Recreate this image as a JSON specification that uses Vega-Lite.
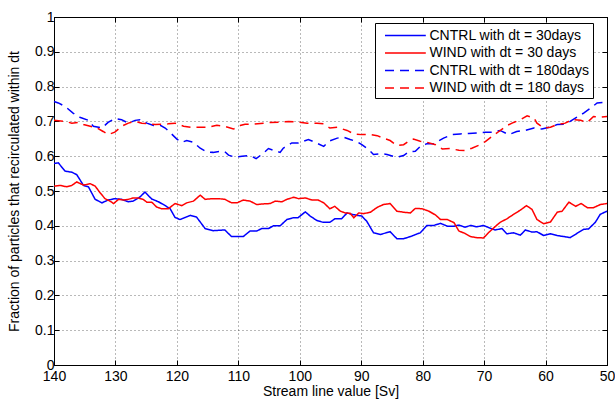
{
"$schema": "https://vega.github.io/schema/vega-lite/v6.json",
"width": 553, "height": 348,
"autosize": {"type": "none"},
"padding": {"left": 54, "top": 17, "right": 8, "bottom": 36},
"background": "white",
"config": {
  "font": "Liberation Sans",
  "view": {"stroke": "black", "strokeWidth": 1},
  "axis": {"domainColor": "black", "tickColor": "black", "tickSize": -5, "labelFont": "Liberation Sans", "labelFontSize": 14, "labelColor": "black", "titleFont": "Liberation Sans", "titleFontSize": 14, "titleFontWeight": "normal", "titleColor": "black", "gridColor": "black", "gridDash": [1, 3], "gridOpacity": 0.55}
},
"datasets": {
"d": [
{"s":"c30","x":140,"y":0.579},{"s":"c30","x":139.3,"y":0.581},{"s":"c30","x":138.2,"y":0.557},{"s":"c30","x":137.1,"y":0.554},{"s":"c30","x":136.3,"y":0.547},{"s":"c30","x":135.2,"y":0.516},{"s":"c30","x":134.4,"y":0.512},{"s":"c30","x":133.3,"y":0.476},{"s":"c30","x":132.2,"y":0.466},{"s":"c30","x":131.2,"y":0.474},{"s":"c30","x":130.1,"y":0.478},{"s":"c30","x":129,"y":0.476},{"s":"c30","x":127.9,"y":0.469},{"s":"c30","x":127.1,"y":0.471},{"s":"c30","x":126,"y":0.483},{"s":"c30","x":125.2,"y":0.497},{"s":"c30","x":124.1,"y":0.477},{"s":"c30","x":123,"y":0.469},{"s":"c30","x":121.9,"y":0.458},{"s":"c30","x":121.1,"y":0.449},{"s":"c30","x":120.3,"y":0.424},{"s":"c30","x":119.5,"y":0.418},{"s":"c30","x":117.8,"y":0.43},{"s":"c30","x":116.8,"y":0.425},{"s":"c30","x":115.4,"y":0.392},{"s":"c30","x":114.1,"y":0.386},{"s":"c30","x":112.2,"y":0.388},{"s":"c30","x":111.1,"y":0.369},{"s":"c30","x":109.2,"y":0.369},{"s":"c30","x":108.1,"y":0.385},{"s":"c30","x":107,"y":0.385},{"s":"c30","x":106.2,"y":0.392},{"s":"c30","x":105.1,"y":0.392},{"s":"c30","x":104.3,"y":0.4},{"s":"c30","x":103.2,"y":0.4},{"s":"c30","x":102.1,"y":0.418},{"s":"c30","x":101.1,"y":0.423},{"s":"c30","x":100.3,"y":0.423},{"s":"c30","x":99.1,"y":0.44},{"s":"c30","x":98.3,"y":0.428},{"s":"c30","x":97.2,"y":0.415},{"s":"c30","x":96.2,"y":0.41},{"s":"c30","x":95.1,"y":0.41},{"s":"c30","x":94.3,"y":0.42},{"s":"c30","x":93.2,"y":0.42},{"s":"c30","x":92.3,"y":0.437},{"s":"c30","x":91.5,"y":0.433},{"s":"c30","x":90.7,"y":0.43},{"s":"c30","x":89.9,"y":0.428},{"s":"c30","x":89.1,"y":0.413},{"s":"c30","x":88,"y":0.38},{"s":"c30","x":86.9,"y":0.375},{"s":"c30","x":85.3,"y":0.383},{"s":"c30","x":84.2,"y":0.363},{"s":"c30","x":83.1,"y":0.363},{"s":"c30","x":82,"y":0.369},{"s":"c30","x":80.4,"y":0.38},{"s":"c30","x":79.3,"y":0.401},{"s":"c30","x":78.2,"y":0.401},{"s":"c30","x":77.1,"y":0.407},{"s":"c30","x":76,"y":0.399},{"s":"c30","x":74.9,"y":0.399},{"s":"c30","x":74.1,"y":0.402},{"s":"c30","x":73.1,"y":0.396},{"s":"c30","x":72.2,"y":0.401},{"s":"c30","x":71.2,"y":0.397},{"s":"c30","x":70.1,"y":0.401},{"s":"c30","x":69,"y":0.393},{"s":"c30","x":68.2,"y":0.388},{"s":"c30","x":67.1,"y":0.392},{"s":"c30","x":66.3,"y":0.377},{"s":"c30","x":65.2,"y":0.38},{"s":"c30","x":64.1,"y":0.373},{"s":"c30","x":63.3,"y":0.388},{"s":"c30","x":62.2,"y":0.382},{"s":"c30","x":61.4,"y":0.383},{"s":"c30","x":60.3,"y":0.372},{"s":"c30","x":59.2,"y":0.377},{"s":"c30","x":58.1,"y":0.372},{"s":"c30","x":57,"y":0.369},{"s":"c30","x":56,"y":0.366},{"s":"c30","x":54.9,"y":0.378},{"s":"c30","x":53.8,"y":0.39},{"s":"c30","x":53,"y":0.391},{"s":"c30","x":51.9,"y":0.41},{"s":"c30","x":51.1,"y":0.433},{"s":"c30","x":50,"y":0.442},
{"s":"w30","x":140,"y":0.514},{"s":"w30","x":139,"y":0.516},{"s":"w30","x":137.9,"y":0.512},{"s":"w30","x":137.1,"y":0.516},{"s":"w30","x":136.3,"y":0.526},{"s":"w30","x":135.2,"y":0.517},{"s":"w30","x":134.1,"y":0.521},{"s":"w30","x":133.3,"y":0.514},{"s":"w30","x":132.5,"y":0.495},{"s":"w30","x":131.7,"y":0.478},{"s":"w30","x":130.9,"y":0.471},{"s":"w30","x":130.3,"y":0.464},{"s":"w30","x":129.5,"y":0.476},{"s":"w30","x":128.7,"y":0.474},{"s":"w30","x":127.9,"y":0.476},{"s":"w30","x":127.1,"y":0.48},{"s":"w30","x":126.3,"y":0.48},{"s":"w30","x":125.5,"y":0.476},{"s":"w30","x":124.9,"y":0.468},{"s":"w30","x":124.1,"y":0.468},{"s":"w30","x":123.3,"y":0.454},{"s":"w30","x":122.5,"y":0.449},{"s":"w30","x":121.4,"y":0.449},{"s":"w30","x":120.3,"y":0.464},{"s":"w30","x":119.2,"y":0.458},{"s":"w30","x":118.4,"y":0.466},{"s":"w30","x":117.3,"y":0.471},{"s":"w30","x":116.2,"y":0.488},{"s":"w30","x":115.4,"y":0.476},{"s":"w30","x":114.3,"y":0.478},{"s":"w30","x":113.2,"y":0.478},{"s":"w30","x":112.2,"y":0.476},{"s":"w30","x":111.1,"y":0.466},{"s":"w30","x":110.2,"y":0.466},{"s":"w30","x":109.2,"y":0.474},{"s":"w30","x":108.1,"y":0.471},{"s":"w30","x":107,"y":0.461},{"s":"w30","x":105.9,"y":0.463},{"s":"w30","x":104.8,"y":0.464},{"s":"w30","x":104,"y":0.471},{"s":"w30","x":102.9,"y":0.469},{"s":"w30","x":102.1,"y":0.476},{"s":"w30","x":101,"y":0.482},{"s":"w30","x":100.2,"y":0.478},{"s":"w30","x":99.1,"y":0.48},{"s":"w30","x":98,"y":0.474},{"s":"w30","x":97,"y":0.474},{"s":"w30","x":96.1,"y":0.466},{"s":"w30","x":95.1,"y":0.449},{"s":"w30","x":94.3,"y":0.456},{"s":"w30","x":93.4,"y":0.442},{"s":"w30","x":92.6,"y":0.437},{"s":"w30","x":91.8,"y":0.436},{"s":"w30","x":91.2,"y":0.423},{"s":"w30","x":90.4,"y":0.437},{"s":"w30","x":89.6,"y":0.435},{"s":"w30","x":88.5,"y":0.439},{"s":"w30","x":87.4,"y":0.453},{"s":"w30","x":86.4,"y":0.461},{"s":"w30","x":85.3,"y":0.464},{"s":"w30","x":84.2,"y":0.442},{"s":"w30","x":83.1,"y":0.439},{"s":"w30","x":82,"y":0.437},{"s":"w30","x":81.2,"y":0.45},{"s":"w30","x":80.1,"y":0.449},{"s":"w30","x":79,"y":0.442},{"s":"w30","x":77.9,"y":0.431},{"s":"w30","x":77.1,"y":0.418},{"s":"w30","x":76,"y":0.418},{"s":"w30","x":74.9,"y":0.409},{"s":"w30","x":74.1,"y":0.385},{"s":"w30","x":73.1,"y":0.378},{"s":"w30","x":72.2,"y":0.369},{"s":"w30","x":71.2,"y":0.366},{"s":"w30","x":70.1,"y":0.365},{"s":"w30","x":69.3,"y":0.38},{"s":"w30","x":68.5,"y":0.393},{"s":"w30","x":67.4,"y":0.41},{"s":"w30","x":66.3,"y":0.42},{"s":"w30","x":65.2,"y":0.433},{"s":"w30","x":64.1,"y":0.445},{"s":"w30","x":63.1,"y":0.458},{"s":"w30","x":62.2,"y":0.447},{"s":"w30","x":61.4,"y":0.418},{"s":"w30","x":60.3,"y":0.406},{"s":"w30","x":59.2,"y":0.411},{"s":"w30","x":58.1,"y":0.439},{"s":"w30","x":57.3,"y":0.442},{"s":"w30","x":56.2,"y":0.468},{"s":"w30","x":55.1,"y":0.456},{"s":"w30","x":54.2,"y":0.464},{"s":"w30","x":53.2,"y":0.452},{"s":"w30","x":52.2,"y":0.452},{"s":"w30","x":51.1,"y":0.461},{"s":"w30","x":50,"y":0.464},
{"s":"c180","x":140,"y":0.757},{"s":"c180","x":139.3,"y":0.753},{"s":"c180","x":138.2,"y":0.743},{"s":"c180","x":136.9,"y":0.724},{"s":"c180","x":135.8,"y":0.712},{"s":"c180","x":134.4,"y":0.703},{"s":"c180","x":133.6,"y":0.686},{"s":"c180","x":132.2,"y":0.681},{"s":"c180","x":131.2,"y":0.697},{"s":"c180","x":130.1,"y":0.708},{"s":"c180","x":129,"y":0.705},{"s":"c180","x":127.9,"y":0.695},{"s":"c180","x":126.8,"y":0.703},{"s":"c180","x":126,"y":0.705},{"s":"c180","x":124.9,"y":0.695},{"s":"c180","x":123.8,"y":0.688},{"s":"c180","x":122.7,"y":0.689},{"s":"c180","x":121.9,"y":0.681},{"s":"c180","x":121.1,"y":0.668},{"s":"c180","x":120,"y":0.649},{"s":"c180","x":119.2,"y":0.64},{"s":"c180","x":118.4,"y":0.645},{"s":"c180","x":117.3,"y":0.64},{"s":"c180","x":116.2,"y":0.623},{"s":"c180","x":115.1,"y":0.612},{"s":"c180","x":114.1,"y":0.611},{"s":"c180","x":113,"y":0.614},{"s":"c180","x":112.2,"y":0.613},{"s":"c180","x":111.6,"y":0.603},{"s":"c180","x":110.5,"y":0.597},{"s":"c180","x":109.4,"y":0.6},{"s":"c180","x":108.1,"y":0.602},{"s":"c180","x":107.1,"y":0.593},{"s":"c180","x":105.9,"y":0.609},{"s":"c180","x":105.1,"y":0.622},{"s":"c180","x":104.3,"y":0.617},{"s":"c180","x":103.2,"y":0.611},{"s":"c180","x":102.7,"y":0.623},{"s":"c180","x":101.3,"y":0.638},{"s":"c180","x":100.2,"y":0.638},{"s":"c180","x":98.6,"y":0.648},{"s":"c180","x":97.8,"y":0.642},{"s":"c180","x":96.1,"y":0.628},{"s":"c180","x":95.3,"y":0.643},{"s":"c180","x":93.9,"y":0.652},{"s":"c180","x":92.9,"y":0.655},{"s":"c180","x":91.8,"y":0.648},{"s":"c180","x":90.7,"y":0.642},{"s":"c180","x":89.9,"y":0.633},{"s":"c180","x":88.8,"y":0.619},{"s":"c180","x":88,"y":0.605},{"s":"c180","x":86.7,"y":0.607},{"s":"c180","x":85.8,"y":0.605},{"s":"c180","x":84.2,"y":0.597},{"s":"c180","x":83.1,"y":0.602},{"s":"c180","x":82.3,"y":0.612},{"s":"c180","x":81.2,"y":0.614},{"s":"c180","x":80.4,"y":0.628},{"s":"c180","x":79.3,"y":0.636},{"s":"c180","x":78.2,"y":0.636},{"s":"c180","x":76.6,"y":0.652},{"s":"c180","x":75.2,"y":0.662},{"s":"c180","x":73.9,"y":0.664},{"s":"c180","x":72.5,"y":0.665},{"s":"c180","x":71.2,"y":0.667},{"s":"c180","x":69.8,"y":0.669},{"s":"c180","x":68.5,"y":0.669},{"s":"c180","x":67.4,"y":0.674},{"s":"c180","x":66,"y":0.662},{"s":"c180","x":64.7,"y":0.671},{"s":"c180","x":63.3,"y":0.674},{"s":"c180","x":61.9,"y":0.681},{"s":"c180","x":60.6,"y":0.678},{"s":"c180","x":59.2,"y":0.684},{"s":"c180","x":58.1,"y":0.691},{"s":"c180","x":57,"y":0.692},{"s":"c180","x":56,"y":0.7},{"s":"c180","x":54.9,"y":0.712},{"s":"c180","x":53.8,"y":0.724},{"s":"c180","x":52.7,"y":0.738},{"s":"c180","x":51.6,"y":0.753},{"s":"c180","x":50,"y":0.755},
{"s":"w180","x":140,"y":0.703},{"s":"w180","x":138.2,"y":0.7},{"s":"w180","x":137.1,"y":0.695},{"s":"w180","x":136,"y":0.697},{"s":"w180","x":135.2,"y":0.691},{"s":"w180","x":134.1,"y":0.686},{"s":"w180","x":133,"y":0.681},{"s":"w180","x":132,"y":0.671},{"s":"w180","x":131.2,"y":0.662},{"s":"w180","x":130.1,"y":0.669},{"s":"w180","x":129,"y":0.686},{"s":"w180","x":127.9,"y":0.695},{"s":"w180","x":126.8,"y":0.7},{"s":"w180","x":125.7,"y":0.695},{"s":"w180","x":124.6,"y":0.693},{"s":"w180","x":123.5,"y":0.691},{"s":"w180","x":122.5,"y":0.692},{"s":"w180","x":121.4,"y":0.693},{"s":"w180","x":120.3,"y":0.695},{"s":"w180","x":118.9,"y":0.686},{"s":"w180","x":117.6,"y":0.683},{"s":"w180","x":116.2,"y":0.683},{"s":"w180","x":114.9,"y":0.683},{"s":"w180","x":113.5,"y":0.689},{"s":"w180","x":112.2,"y":0.686},{"s":"w180","x":110.8,"y":0.678},{"s":"w180","x":109.7,"y":0.688},{"s":"w180","x":108.9,"y":0.692},{"s":"w180","x":107.5,"y":0.692},{"s":"w180","x":105.9,"y":0.695},{"s":"w180","x":104.8,"y":0.697},{"s":"w180","x":103.2,"y":0.698},{"s":"w180","x":101.8,"y":0.7},{"s":"w180","x":100.2,"y":0.698},{"s":"w180","x":98.8,"y":0.695},{"s":"w180","x":97.2,"y":0.695},{"s":"w180","x":96.1,"y":0.693},{"s":"w180","x":95.1,"y":0.681},{"s":"w180","x":93.9,"y":0.683},{"s":"w180","x":92.3,"y":0.674},{"s":"w180","x":91.2,"y":0.664},{"s":"w180","x":89.9,"y":0.662},{"s":"w180","x":88.5,"y":0.662},{"s":"w180","x":87.4,"y":0.659},{"s":"w180","x":86.4,"y":0.652},{"s":"w180","x":85.3,"y":0.645},{"s":"w180","x":84.2,"y":0.631},{"s":"w180","x":83.1,"y":0.633},{"s":"w180","x":82.3,"y":0.643},{"s":"w180","x":81.5,"y":0.649},{"s":"w180","x":80.4,"y":0.643},{"s":"w180","x":79.3,"y":0.64},{"s":"w180","x":77.9,"y":0.633},{"s":"w180","x":76.8,"y":0.621},{"s":"w180","x":75.5,"y":0.622},{"s":"w180","x":74.1,"y":0.617},{"s":"w180","x":73.1,"y":0.616},{"s":"w180","x":72,"y":0.623},{"s":"w180","x":70.9,"y":0.631},{"s":"w180","x":69.8,"y":0.642},{"s":"w180","x":68.7,"y":0.657},{"s":"w180","x":67.6,"y":0.671},{"s":"w180","x":66.3,"y":0.688},{"s":"w180","x":65.2,"y":0.697},{"s":"w180","x":64.1,"y":0.705},{"s":"w180","x":63,"y":0.716},{"s":"w180","x":61.9,"y":0.71},{"s":"w180","x":61.4,"y":0.695},{"s":"w180","x":60.3,"y":0.681},{"s":"w180","x":59.2,"y":0.683},{"s":"w180","x":58.1,"y":0.691},{"s":"w180","x":56.8,"y":0.695},{"s":"w180","x":55.7,"y":0.705},{"s":"w180","x":54.3,"y":0.703},{"s":"w180","x":53.2,"y":0.697},{"s":"w180","x":52.2,"y":0.714},{"s":"w180","x":51.1,"y":0.712},{"s":"w180","x":50,"y":0.714}
]
},
"data": {"name": "d"},
"resolve": {"axis": {"x": "independent", "y": "independent"}},
"layer": [
  {
    "mark": {"type": "line", "strokeWidth": 1.5},
    "encoding": {
      "x": {"field": "x", "type": "quantitative", "scale": {"domain": [50, 140], "reverse": true, "nice": false, "zero": false},
            "axis": {"orient": "bottom", "values": [50,60,70,80,90,100,110,120,130,140], "title": "Stream line value [Sv]", "labelPadding": 9, "titlePadding": 1, "grid": true, "labelFlush": false}},
      "y": {"field": "y", "type": "quantitative", "scale": {"domain": [0, 1], "nice": false},
            "axis": {"orient": "left", "values": [0,0.1,0.2,0.3,0.4,0.5,0.6,0.7,0.8,0.9,1], "format": "~g", "title": "Fraction of particles that recirculated within dt", "labelPadding": 5, "titlePadding": 13, "grid": true}},
      "color": {"field": "s", "type": "nominal", "title": null,
                "scale": {"domain": ["c30", "w30", "c180", "w180"], "range": ["#0000ff", "#ff0000", "#0000ff", "#ff0000"]},
                "legend": {"orient": "none", "legendX": 321, "legendY": 6, "fillColor": "white", "strokeColor": "black", "padding": 3, "symbolType": "M0,0H4.8", "symbolSize": 289, "symbolOffset": -2.5, "symbolStrokeWidth": 1.5, "labelOffset": 35, "labelFontSize": 14, "labelFont": "Liberation Sans", "labelColor": "black", "labelLimit": 300, "rowPadding": 0.5,
                           "labelExpr": "datum.value == 'c30' ? 'CNTRL with dt = 30days' : datum.value == 'w30' ? 'WIND with dt = 30 days' : datum.value == 'c180' ? 'CNTRL with dt = 180days  ' : 'WIND with dt = 180 days'"}},
      "strokeDash": {"field": "s", "type": "nominal", "title": null,
                "scale": {"domain": ["c30", "w30", "c180", "w180"], "range": [[1, 0], [1, 0], [9, 6], [9, 6]]},
                "legend": {"orient": "none", "legendX": 321, "legendY": 6, "fillColor": "white", "strokeColor": "black", "padding": 3, "symbolType": "M0,0H4.8", "symbolSize": 289, "symbolOffset": -2.5, "symbolStrokeWidth": 1.5, "labelOffset": 35, "labelFontSize": 14, "labelFont": "Liberation Sans", "labelColor": "black", "labelLimit": 300, "rowPadding": 0.5,
                           "labelExpr": "datum.value == 'c30' ? 'CNTRL with dt = 30days' : datum.value == 'w30' ? 'WIND with dt = 30 days' : datum.value == 'c180' ? 'CNTRL with dt = 180days  ' : 'WIND with dt = 180 days'"}}
    }
  },
  {
    "mark": {"type": "line", "opacity": 0},
    "encoding": {
      "x": {"field": "x", "type": "quantitative", "scale": {"domain": [50, 140], "reverse": true, "nice": false, "zero": false},
            "axis": {"orient": "top", "values": [50,60,70,80,90,100,110,120,130,140], "labels": false, "title": null, "grid": false}},
      "y": {"field": "y", "type": "quantitative", "scale": {"domain": [0, 1], "nice": false},
            "axis": {"orient": "right", "values": [0,0.1,0.2,0.3,0.4,0.5,0.6,0.7,0.8,0.9,1], "labels": false, "title": null, "grid": false}}
    }
  }
]
}
